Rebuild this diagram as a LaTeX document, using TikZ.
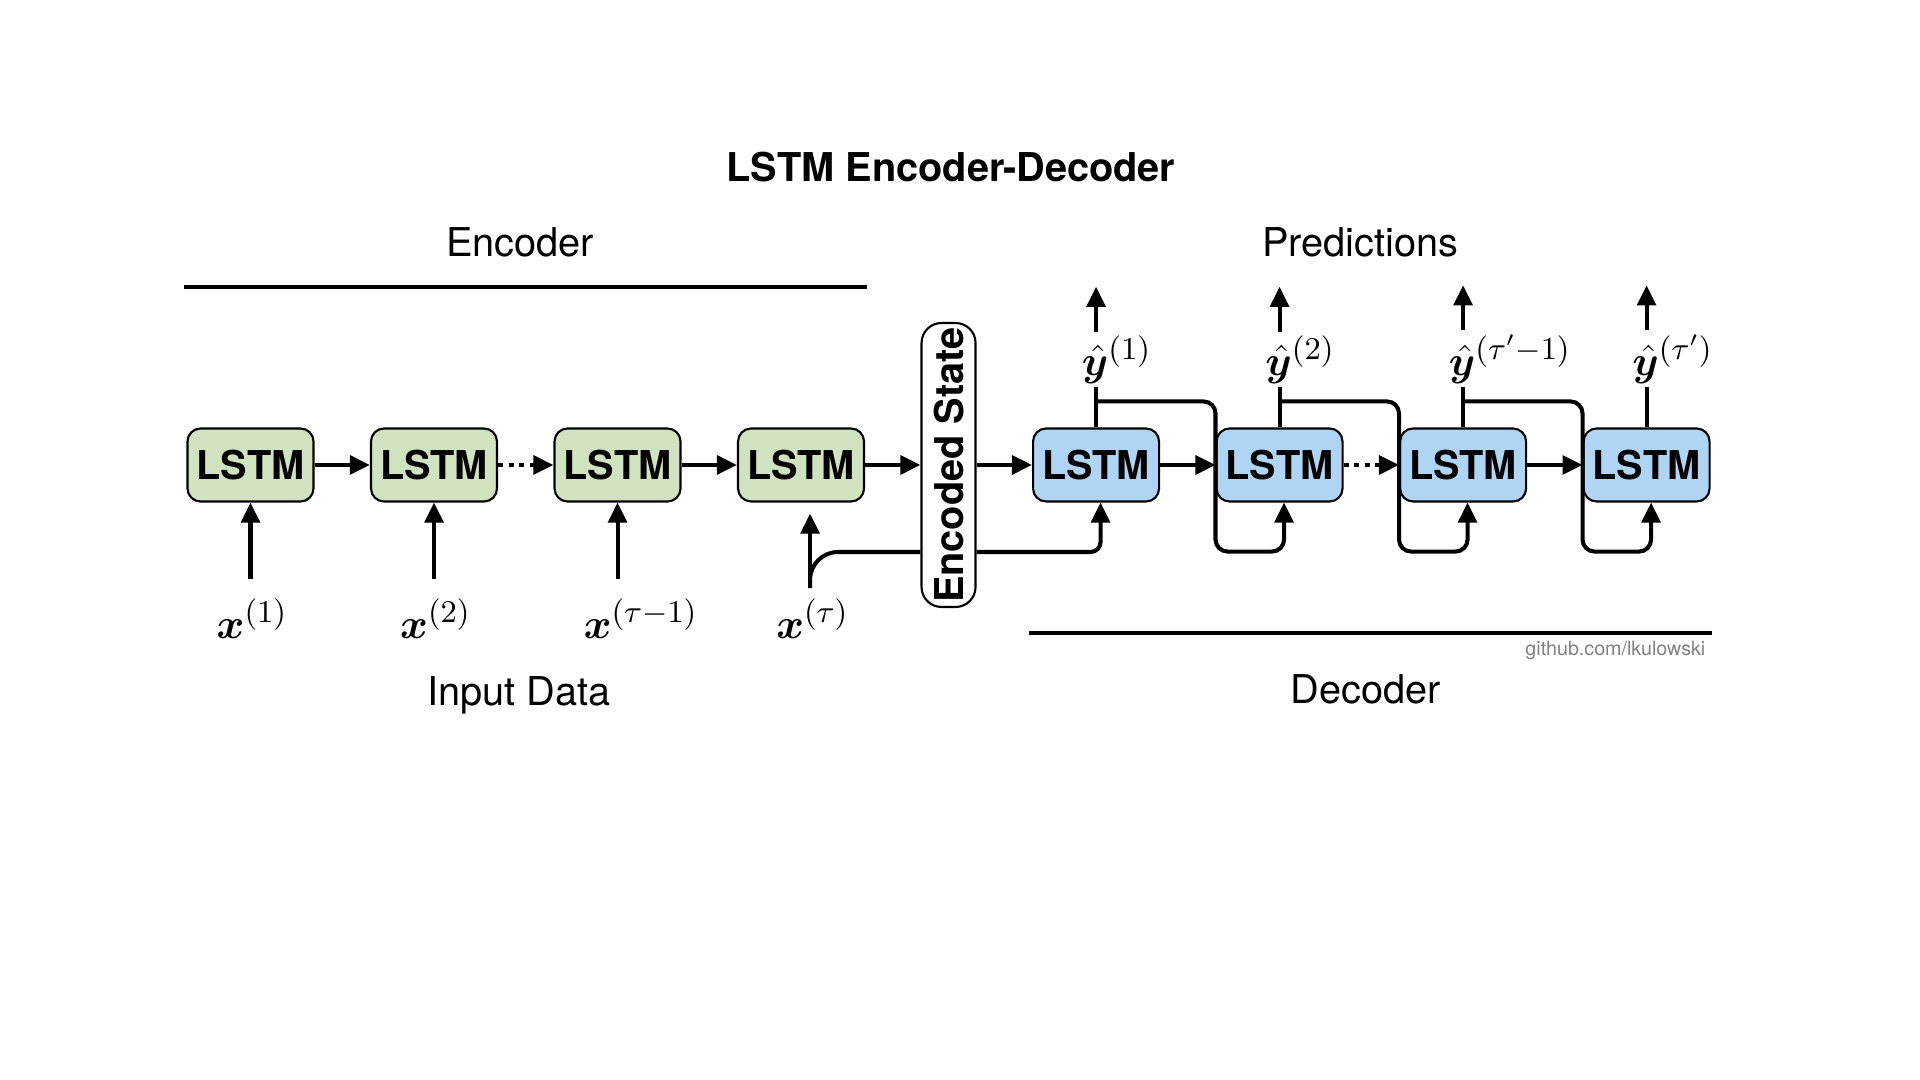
\documentclass[tikz,border=0pt]{standalone}
\usepackage[no-math]{fontspec}
\setmainfont{TeX Gyre Heros}
\usepackage{amsmath,amssymb,bm}
\usepackage{mathtools}
\usetikzlibrary{arrows.meta,positioning}
\definecolor{enccol}{RGB}{208,226,192}
\definecolor{deccol}{RGB}{176,213,244}
\definecolor{credcol}{RGB}{128,128,128}
\def\diafont{\fontsize{11.3}{13.5}\selectfont}
\def\mathfont{\fontsize{12.2}{14.5}\selectfont}
\tikzstyle{cell}=[draw,line width=0.6pt,rounded corners=0.13cm,minimum width=1.26cm,minimum height=0.73cm,inner sep=0pt,font=\diafont\bfseries]
\tikzstyle{flow}=[line width=1.15pt]
\tikzstyle{arr}=[flow,-{Triangle[length=5.7pt,width=5.3pt]}]
\tikzstyle{dotarr}=[arr,dash pattern=on 1.5pt off 1.5pt]
\tikzstyle{xlab}=[inner sep=0pt,outer sep=0.2cm,font=\mathfont]
\tikzstyle{ylab}=[inner sep=0pt,outer sep=1.2pt,font=\mathfont]
\tikzstyle{rule}=[line width=1.1pt]

\begin{document}
\begin{tikzpicture}[node distance=0.554cm]
    \useasboundingbox (0,0) rectangle (19.2,10.8);

    \node[font=\diafont\bfseries] (title) at (9.51,9.13) {LSTM Encoder-Decoder};
    \node[font=\diafont] (enctxt) at (5.20,8.38) {Encoder};
    \node[font=\diafont] (predtxt) at (13.60,8.38) {Predictions};
    \node[font=\diafont] (intxt) at (5.19,3.85) {Input Data};
    \node[font=\diafont] (dectxt) at (13.66,3.91) {Decoder};
    \node[font=\fontsize{5.6}{7}\selectfont,credcol,anchor=east,inner sep=0pt] (cred) at (17.06,4.30) {github.com/lkulowski};

    \draw[rule] (1.84,7.93) -- (8.67,7.93);
    \draw[rule] (10.29,4.47) -- (17.12,4.47);

    % encoder
    \node[cell,fill=enccol] (e1) at (2.505,6.15) {LSTM};
    \node[cell,fill=enccol,right=of e1] (e2) {LSTM};
    \node[cell,fill=enccol,right=of e2] (e3) {LSTM};
    \node[cell,fill=enccol,right=of e3] (e4) {LSTM};
    \node[draw,line width=0.6pt,rounded corners=0.2cm,minimum width=0.54cm,minimum height=2.84cm,
          inner sep=0pt,font=\diafont\bfseries,right=of e4] (enc) {\rotatebox{90}{Encoded State}};

    % decoder
    \node[cell,fill=deccol,right=of enc] (d1) {LSTM};
    \node[cell,fill=deccol,right=of d1] (d2) {LSTM};
    \node[cell,fill=deccol,right=of d2] (d3) {LSTM};
    \node[cell,fill=deccol,right=of d3] (d4) {LSTM};

    % inputs: x glyph sits left of its arrow
    \node[xlab,below=0.765cm of e1,xshift=-0.19cm] (x1) {$\bm{x}^{\mathrlap{(1)}}$};
    \node[xlab,below=0.765cm of e2,xshift=-0.19cm] (x2) {$\bm{x}^{\mathrlap{(2)}}$};
    \node[xlab,below=0.765cm of e3,xshift=-0.19cm] (x3) {$\bm{x}^{\mathrlap{(\tau-1)}}$};
    \node[xlab,below=0.765cm of e4,xshift=-0.10cm] (x4) {$\bm{x}^{\mathrlap{(\tau)}}$};
    \coordinate (j4) at ([xshift=0.19cm,yshift=-0.09cm]x4.north);

    \node[ylab,above=0.40cm of d1] (y1) {$\hat{\bm{y}}^{\mathrlap{(1)}}$};
    \node[ylab,above=0.40cm of d2] (y2) {$\hat{\bm{y}}^{\mathrlap{(2)}}$};
    \node[ylab,above=0.40cm of d3] (y3) {$\hat{\bm{y}}^{\mathrlap{(\tau'-1)}}$};
    \node[ylab,above=0.40cm of d4] (y4) {$\hat{\bm{y}}^{\mathrlap{(\tau')}}$};

    \coordinate[above=0.45cm of y1] (p1);
    \coordinate[above=0.45cm of y2] (p2);
    \coordinate[above=0.45cm of y3] (p3);
    \coordinate[above=0.45cm of y4] (p4);
    \coordinate[above=0.26cm of d1] (k1);
    \coordinate[above=0.26cm of d2] (k2);
    \coordinate[above=0.26cm of d3] (k3);

    \draw[arr] (e1) -- (e2);
    \draw[dotarr] (e2) -- (e3);
    \draw[arr] (e3) -- (e4);
    \draw[arr] (e4) -- (enc);
    \draw[arr] (enc) -- (d1);
    \draw[arr] (d1) -- (d2);
    \draw[dotarr] (d2) -- (d3);
    \draw[arr] (d3) -- (d4);

    \draw[arr] (x1.north -| e1) -- (e1);
    \draw[arr] (x2.north -| e2) -- (e2);
    \draw[arr] (x3.north -| e3) -- (e3);
    \draw[arr,shorten >=0.11cm] (j4) -- (j4 |- e4.south);
    \draw[flow,rounded corners=0.28cm] ([yshift=-0.87cm]enc.west) -| (j4);
    \draw[arr,rounded corners=0.1cm] ([yshift=-0.87cm]enc.east) -| ([xshift=0.045cm]d1.south);

    \draw[flow] (d1) -- (y1);
    \draw[flow] (d2) -- (y2);
    \draw[flow] (d3) -- (y3);
    \draw[flow] (d4) -- (y4);
    \draw[arr] (y1) -- (p1);
    \draw[arr] (y2) -- (p2);
    \draw[arr] (y3) -- (p3);
    \draw[arr] (y4) -- (p4);

    \draw[arr,rounded corners=0.12cm] (k1) -| ([yshift=-0.49cm]d2.south west) -| ([xshift=0.045cm]d2.south);
    \draw[arr,rounded corners=0.12cm] (k2) -| ([yshift=-0.49cm]d3.south west) -| ([xshift=0.045cm]d3.south);
    \draw[arr,rounded corners=0.12cm] (k3) -| ([yshift=-0.49cm]d4.south west) -| ([xshift=0.045cm]d4.south);
\end{tikzpicture}
\end{document}
